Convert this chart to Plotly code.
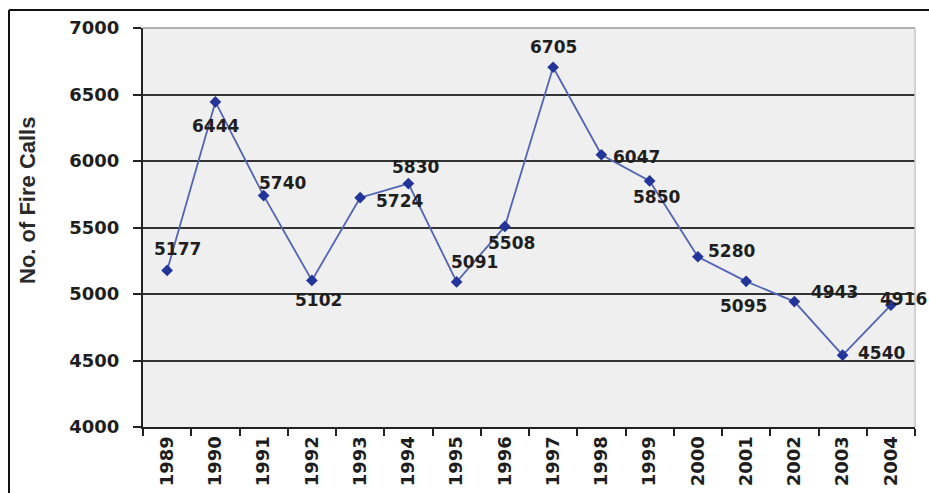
import plotly.graph_objects as go

years = ["1989", "1990", "1991", "1992", "1993", "1994", "1995", "1996",
         "1997", "1998", "1999", "2000", "2001", "2002", "2003", "2004"]
calls = [5177, 6444, 5740, 5102, 5724, 5830, 5091, 5508,
         6705, 6047, 5850, 5280, 5095, 4943, 4540, 4916]
y_ticks = [4000, 4500, 5000, 5500, 6000, 6500, 7000]
y_title = "No. of Fire Calls"

# label pixel offsets (dx, dy) relative to each point
label_offsets = [(10, -21), (0, 24), (19, -13), (7, 20), (39, 3), (7, -17),
                 (18, -20), (7, 17), (0, -20), (35, 2), (7, 16), (34, -6),
                 (-3, 25), (40, -10), (39, -2), (13, -6)]

W, H = 929, 493
L, R, T, B = 143, 14, 28, 66
FONT = "DejaVu Sans"
TXT = "#1e1e1e"

pw = W - L - R
ph = H - T - B
def px_to_paper_x(px):
    return (px - L) / pw
def px_to_paper_y(py):
    return (H - B - py) / ph

fig = go.Figure()
fig.add_trace(go.Scatter(
    x=years, y=calls, mode="lines+markers",
    line=dict(color="#5264b6", width=1.8),
    marker=dict(symbol="diamond", size=9, color="#23359a"),
    showlegend=False, hoverinfo="skip",
))

ann = []
for i, (v, (dx, dy)) in enumerate(zip(calls, label_offsets)):
    ann.append(dict(x=i, y=v, xref="x", yref="y", text=f"<b>{v}</b>", showarrow=False,
                    xshift=dx, yshift=-dy,
                    font=dict(family=FONT, size=17, color=TXT),
                    xanchor="center", yanchor="middle"))
ann.append(dict(x=px_to_paper_x(27), y=px_to_paper_y(201), xref="paper", yref="paper",
                text=f"<b>{y_title}</b>", textangle=-90, showarrow=False,
                xanchor="center", yanchor="middle",
                font=dict(family="Liberation Sans, Arial", size=22, color="#2a2a2a")))

shapes = [
    dict(type="line", xref="paper", yref="paper", x0=0, x1=1, y0=1, y1=1,
         line=dict(color="#b0b0b0", width=2), layer="above"),
    dict(type="line", xref="paper", yref="paper", x0=1, x1=1, y0=0, y1=1,
         line=dict(color="#c4c4c4", width=1.5), layer="above"),
    dict(type="line", xref="paper", yref="paper",
         x0=px_to_paper_x(9), x1=px_to_paper_x(9),
         y0=px_to_paper_y(10), y1=px_to_paper_y(500),
         line=dict(color="#111111", width=2)),
    dict(type="line", xref="paper", yref="paper",
         x0=px_to_paper_x(9), x1=px_to_paper_x(935),
         y0=px_to_paper_y(10), y1=px_to_paper_y(10),
         line=dict(color="#111111", width=2)),
]

fig.update_layout(
    width=W, height=H,
    margin=dict(l=L, r=R, t=T, b=B, pad=0),
    paper_bgcolor="white",
    plot_bgcolor="#efefef",
    font=dict(family=FONT, color=TXT),
    annotations=ann,
    shapes=shapes,
    xaxis=dict(
        type="category", tickangle=-90, tickson="boundaries",
        ticks="outside", ticklen=7, tickwidth=2, tickcolor="#222",
        showline=True, linecolor="#222", linewidth=2,
        showgrid=False, fixedrange=True, automargin=False,
        tickvals=years, ticktext=[f"<b>{y}</b>" for y in years],
        tickfont=dict(family=FONT, size=18, color=TXT),
        range=[-0.5, 15.5],
    ),
    yaxis=dict(
        range=[4000, 7000], tickvals=y_ticks,
        ticktext=[f"<b>{v}</b>" for v in y_ticks],
        ticks="outside", ticklen=8, tickwidth=2, tickcolor="#222",
        showline=True, linecolor="#222", linewidth=2,
        showgrid=True, gridcolor="#333333", gridwidth=2,
        zeroline=False, ticklabelstandoff=10, automargin=False,
        tickfont=dict(family=FONT, size=18, color=TXT),
    ),
)

fig.write_html("out.html", include_plotlyjs=True, config={"displayModeBar": False})
